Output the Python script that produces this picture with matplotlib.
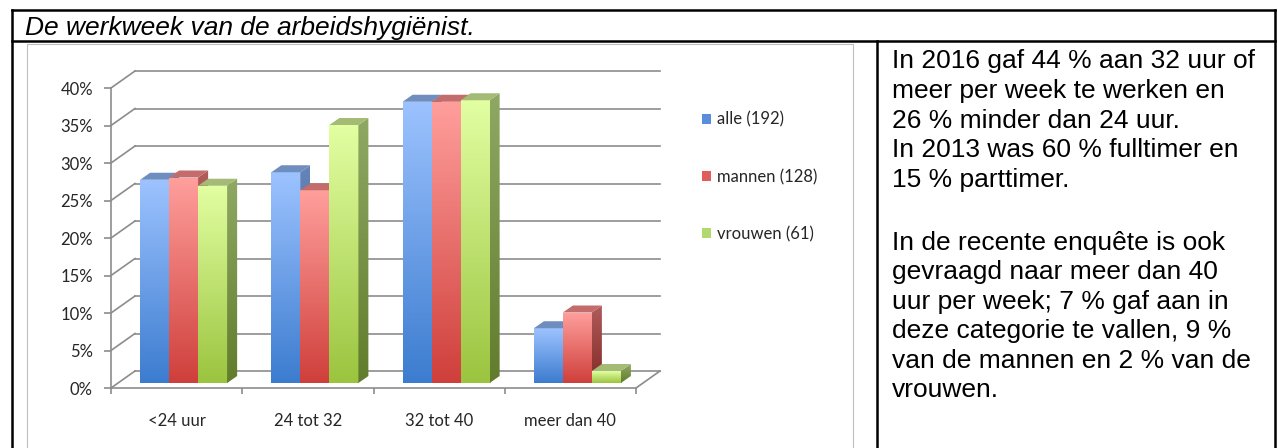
import numpy as np
import matplotlib.pyplot as plt
from matplotlib.patches import Polygon, Patch, Rectangle
from matplotlib.colors import LinearSegmentedColormap

plt.rcParams['font.family'] = ['Lato', 'DejaVu Sans']

categories = ['<24 uur', '24 tot 32', '32 tot 40', 'meer dan 40']
series_labels = ['alle (192)', 'mannen (128)', 'vrouwen (61)']
alle = [27.1, 28.1, 37.5, 7.3]
mannen = [27.4, 25.7, 37.5, 9.4]
vrouwen = [26.3, 34.4, 37.7, 1.6]
y_ticks = [0, 5, 10, 15, 20, 25, 30, 35, 40]

title = 'De werkweek van de arbeidshygiënist.'
para1 = ['In 2016 gaf 44 % aan 32 uur of',
         'meer per week te werken en',
         '26 % minder dan 24 uur.',
         'In 2013 was 60 % fulltimer en',
         '15 % parttimer.']
para2 = ['In de recente enquête is ook',
         'gevraagd naar meer dan 40',
         'uur per week; 7 % gaf aan in',
         'deze categorie te vallen, 9 %',
         'van de mannen en 2 % van de',
         'vrouwen.']

# front bottom, front top, side bottom, side top, top face, legend
styles = [
    ('#3c7ccf', '#9dc3ff', '#34598f', '#6585b8', '#6f8dbf', '#5a8edb'),
    ('#cf3f3b', '#ff9f9c', '#822a28', '#b05c5a', '#c46c6b', '#e05e5c'),
    ('#9bc43f', '#e2ffa2', '#617c2c', '#8fa964', '#a3bb74', '#b2d872'),
]
grid_c = '#8c8c8c'

W, H = 1278, 448
fig = plt.figure(figsize=(W / 100, H / 100), dpi=100)

# page / table layer in pixel coordinates
frame = fig.add_axes([0, 0, 1, 1])
frame.set_xlim(0, W)
frame.set_ylim(H, 0)
frame.axis('off')

lw_tab = 1.8
frame.plot([11.5, 11.5], [10, H + 2], color='black', lw=lw_tab, solid_capstyle='projecting')
frame.plot([1274.5, 1274.5], [10, H + 2], color='black', lw=lw_tab, solid_capstyle='projecting')
frame.plot([11.5, 1274.5], [10, 10], color='black', lw=lw_tab, solid_capstyle='projecting')
frame.plot([11.5, 1274.5], [41.5, 41.5], color='black', lw=lw_tab, solid_capstyle='projecting')
frame.plot([876.5, 876.5], [41.5, H + 2], color='black', lw=lw_tab)
frame.add_patch(Rectangle((26.5, 44), 826, H, fill=False, ec='#bfbfbf', lw=0.8))

frame.text(25, 35, title, fontsize=19, style='italic', family='Liberation Sans',
           ha='left', va='baseline')
for i, line in enumerate(para1):
    frame.text(892, 68.3 + i * 29.6, line, fontsize=19, family='Liberation Sans',
               ha='left', va='baseline')
for i, line in enumerate(para2):
    frame.text(892, 250 + i * 29.4, line, fontsize=19, family='Liberation Sans',
               ha='left', va='baseline')

# chart: axes = front plane of the 3D box
ax = fig.add_axes([111 / W, (H - 388) / H, 525 / W, 300 / H])
ax.set_xlim(-0.5, 3.5)
ax.set_ylim(0, 40)
ax.set_autoscale_on(False)
ax.patch.set_visible(False)


def shift(dx, dy):
    # pixel offset -> data offset
    o = ax.transData.transform((0, 0))
    p = ax.transData.inverted().transform((o[0] + dx, o[1] + dy))
    return p[0], p[1]


bar_dx, bar_dy = shift(7, 5)
dep_dx, dep_dy = shift(10, 7)
wall_dx, wall_dy = shift(24, 17)

# back wall grid + left wall diagonals + floor
for v in y_ticks:
    ax.plot([-0.5 + wall_dx, 3.5 + wall_dx], [v + wall_dy, v + wall_dy], color=grid_c,
            lw=1.2, clip_on=False, zorder=1)
    ax.plot([-0.5, -0.5 + wall_dx], [v, v + wall_dy], color=grid_c, lw=1.2,
            clip_on=False, zorder=1)
ax.plot([3.5, 3.5 + wall_dx], [0, wall_dy], color=grid_c, lw=1.2, clip_on=False, zorder=1)


def gradient(patch, extent, c_bot, c_top, z):
    cmap = LinearSegmentedColormap.from_list('g', [c_bot, c_top])
    im = ax.imshow(np.linspace(0, 1, 256).reshape(-1, 1), cmap=cmap, extent=extent,
                   origin='lower', aspect='auto', interpolation='bilinear', zorder=z)
    im.set_clip_path(patch)


width = 0.221
x = np.arange(len(categories))
for k, vals in enumerate([alle, mannen, vrouwen]):
    fb, ft, sb, st, tc, _ = styles[k]
    z = 3 + 3 * k
    bars = ax.bar(x + (k - 1) * width + bar_dx, vals, width, bottom=bar_dy,
                  facecolor='none', edgecolor='none', zorder=z)
    for rect in bars:
        x0, y0 = rect.get_x(), rect.get_y()
        x1, y1 = x0 + rect.get_width(), y0 + rect.get_height()
        gradient(rect, (x0, x1, y0, y1), fb, ft, z)
        side = Polygon([(x1, y0), (x1, y1), (x1 + dep_dx, y1 + dep_dy), (x1 + dep_dx, y0 + dep_dy)],
                       closed=True, fc='none', ec='none')
        ax.add_patch(side)
        gradient(side, (x1, x1 + dep_dx, y0, y1 + dep_dy), sb, st, z + 1)
        ax.add_patch(Polygon([(x0, y1), (x1, y1), (x1 + dep_dx, y1 + dep_dy), (x0 + dep_dx, y1 + dep_dy)],
                             closed=True, fc=tc, ec='none', zorder=z + 2))

# axes, ticks
for s in ['top', 'right']:
    ax.spines[s].set_visible(False)
for s in ['left', 'bottom']:
    ax.spines[s].set_color(grid_c)
    ax.spines[s].set_linewidth(1.2)

ax.set_yticks(y_ticks, [f'{v}%' for v in y_ticks])
ax.tick_params(axis='y', length=5, width=1.2, color=grid_c, pad=8, labelsize=12,
               labelcolor='#262626')
ax.set_xticks(np.arange(len(categories) + 1) - 0.5, [])
ax.set_xticks(x, categories, minor=True)
ax.tick_params(axis='x', which='major', length=4.3, width=1.2, color=grid_c)
ax.tick_params(axis='x', which='minor', length=0, pad=18, labelsize=12, labelcolor='#262626')

handles = [Patch(facecolor=s[5], edgecolor='none') for s in styles]
ax.legend(handles, series_labels, loc='center left', bbox_to_anchor=(702 / W, 1 - 177 / H),
          bbox_transform=fig.transFigure, frameon=False, borderpad=0, borderaxespad=0,
          handlelength=0.55, handleheight=0.55, handletextpad=0.35, labelspacing=2.47,
          fontsize=12, labelcolor='#262626')

fig.savefig('out.png', dpi=100)
